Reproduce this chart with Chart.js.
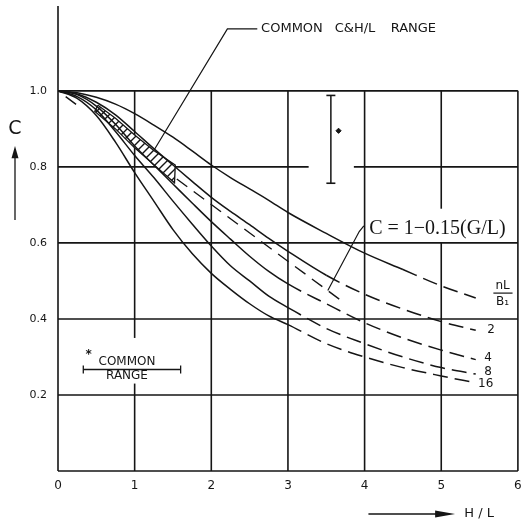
<!DOCTYPE html>
<html>
<head>
<meta charset="utf-8">
<script src="https://cdn.jsdelivr.net/npm/chart.js@4.4.1/dist/chart.umd.min.js"></script>
<style>
  html, body { margin: 0; padding: 0; background: #fff; }
  canvas { display: block; }
</style>
</head>
<body>
<canvas id="chart" width="524" height="525"></canvas>
<script>
// ── Valores (C vs H/L) ────────────────────────────────────────────────
const hL   = [0, 0.25, 0.5, 0.75, 1, 1.25, 1.5, 1.75, 2, 2.25, 2.5, 2.75, 3, 3.5, 4, 4.5, 5, 5.45];
const cN1  = [1.0, 0.995, 0.983, 0.965, 0.94, 0.91, 0.878, 0.842, 0.805, 0.772, 0.742, 0.712, 0.68, 0.625, 0.573, 0.53, 0.487, 0.455];
const cN2  = [1.0, 0.992, 0.97, 0.937, 0.893, 0.848, 0.805, 0.762, 0.72, 0.683, 0.648, 0.612, 0.578, 0.515, 0.465, 0.426, 0.393, 0.37];
const cN4  = [1.0, 0.99, 0.96, 0.912, 0.855, 0.805, 0.755, 0.705, 0.656, 0.61, 0.565, 0.525, 0.492, 0.44, 0.39, 0.35, 0.318, 0.293];
const cN8  = [1.0, 0.985, 0.95, 0.893, 0.83, 0.772, 0.71, 0.65, 0.592, 0.54, 0.5, 0.46, 0.43, 0.375, 0.335, 0.3, 0.272, 0.255];
const cN16 = [1.0, 0.98, 0.935, 0.865, 0.785, 0.71, 0.635, 0.572, 0.52, 0.478, 0.44, 0.408, 0.385, 0.335, 0.3, 0.272, 0.25, 0.232];

// zona rayada "COMMON C & H/L RANGE" (contorno cerrado)
const bandH = [0.52, 0.75, 1.0, 1.25, 1.53, 1.52, 1.25, 1.0, 0.75, 0.48, 0.52];
const bandC = [0.962, 0.928, 0.884, 0.843, 0.805, 0.758, 0.806, 0.85, 0.9, 0.946, 0.962];

// recta C = 1 - 0.15(G/L): solo se ve un trazo cerca del origen y luego desde la zona rayada
const lineH = [0.1, 0.28, 0.9, 1.55, 3.75];
const lineC = [0.985, 0.958, null, 0.768, 0.44];

// barra de dispersión y punto
const errH = [3.56, 3.56];
const errC = [0.988, 0.757];
const dotH = [3.66];
const dotC = [0.895];

// barra "COMMON RANGE"
const rangeH = [0.33, 1.6];
const rangeC = [0.267, 0.267];

// líneas de referencia de las notas
const leadH = [2.6, 2.21, 1.24];
const leadC = [1.163, 1.163, 0.84];
const lead2H = [3.99, 3.93, 3.52];
const lead2C = [0.645, 0.63, 0.475];

const xTicks = [0, 1, 2, 3, 4, 5, 6];
const yTicks = [0.2, 0.4, 0.6, 0.8, 1.0];
const curveLabels = ['2', '4', '8', '16'];

const INK = '#151515';
const pts = (xs, ys) => xs.map((v, i) => ({ x: v, y: ys[i] }));

// ── Patrón rayado (fondo blanco para tapar lo que pasa por debajo) ───
function hatchPattern() {
  const p = document.createElement('canvas');
  p.width = 8; p.height = 8;
  const g = p.getContext('2d');
  g.fillStyle = '#fff';
  g.fillRect(0, 0, 8, 8);
  g.strokeStyle = INK; g.lineWidth = 1.4;
  g.beginPath();
  g.moveTo(0, 8); g.lineTo(8, 0);
  g.moveTo(-1, 1); g.lineTo(1, -1);
  g.moveTo(7, 9); g.lineTo(9, 7);
  g.stroke();
  return g.createPattern(p, 'repeat');
}

function curve(data, dashFrom) {
  return {
    data: pts(hL, data),
    borderColor: INK,
    borderWidth: 1.5,
    pointRadius: 0,
    fill: false,
    cubicInterpolationMode: 'monotone',
    segment: { borderDash: s => s.p0.parsed.x >= dashFrom ? [15, 7] : undefined },
  };
}

// ── Cuadrícula con cortes, como en el original ────────────────────────
const gridPlugin = {
  id: 'gridLines',
  beforeDatasetsDraw(chart) {
    const { ctx, chartArea, scales: { x, y } } = chart;
    const vGaps = { 1: [[0.23, 0.35]], 5: [[0.6, 0.69]] };
    const hGaps = { '0.8': [[3.27, 3.86]] };
    ctx.save();
    ctx.strokeStyle = INK;
    ctx.lineWidth = 1.6;
    const seg = (x1, y1, x2, y2) => { ctx.beginPath(); ctx.moveTo(x1, y1); ctx.lineTo(x2, y2); ctx.stroke(); };

    xTicks.forEach(v => {
      const px = x.getPixelForValue(v);
      if (v === 0) { seg(px, y.getPixelForValue(0), px, chartArea.top); return; }
      let from = 0;
      (vGaps[v] || []).forEach(([a, b]) => {
        seg(px, y.getPixelForValue(from), px, y.getPixelForValue(a));
        from = b;
      });
      seg(px, y.getPixelForValue(from), px, y.getPixelForValue(1.0));
    });

    [0].concat(yTicks).forEach(v => {
      const py = y.getPixelForValue(v);
      let from = 0;
      (hGaps[v.toFixed(1)] || []).forEach(([a, b]) => {
        seg(x.getPixelForValue(from), py, x.getPixelForValue(a), py);
        from = b;
      });
      seg(x.getPixelForValue(from), py, x.getPixelForValue(6), py);
    });
    ctx.restore();
  },
};

// ── Textos y flechas ──────────────────────────────────────────────────
const notesPlugin = {
  id: 'notes',
  afterDraw(chart) {
    const { ctx, chartArea, scales: { x, y } } = chart;
    const X = v => x.getPixelForValue(v);
    const Y = v => y.getPixelForValue(v);
    ctx.save();
    ctx.fillStyle = INK;
    ctx.strokeStyle = INK;
    ctx.textBaseline = 'middle';

    // título de la zona común
    ctx.font = '13px "DejaVu Sans"';
    ctx.textAlign = 'left';
    ctx.fillText('COMMON', X(2.65), Y(1.165));
    ctx.fillText('C&H/L', X(3.61), Y(1.165));
    ctx.fillText('RANGE', X(4.34), Y(1.165));

    // fórmula
    ctx.font = '20px "Liberation Serif"';
    ctx.fillText('C = 1\u22120.15(G/L)', X(4.06), Y(0.637));

    // COMMON RANGE
    ctx.font = '12px "DejaVu Sans"';
    ctx.textAlign = 'center';
    ctx.fillText('COMMON', X(0.9), Y(0.286));
    ctx.fillText('RANGE', X(0.9), Y(0.249));
    ctx.font = 'bold 12px "DejaVu Sans"';
    ctx.fillText('*', X(0.4), Y(0.305));

    // etiquetas de curvas
    ctx.font = '12px "DejaVu Sans"';
    ctx.textAlign = 'left';
    const ends = [[5.6, 0.37], [5.56, 0.298], [5.56, 0.261], [5.48, 0.229]];
    curveLabels.forEach((t, i) => ctx.fillText(t, X(ends[i][0]), Y(ends[i][1])));
    ctx.textAlign = 'center';
    ctx.fillText('nL', X(5.8), Y(0.488));
    ctx.fillText('B\u2081', X(5.8), Y(0.444));
    ctx.lineWidth = 1.2;
    ctx.beginPath(); ctx.moveTo(X(5.68), Y(0.468)); ctx.lineTo(X(5.93), Y(0.468)); ctx.stroke();

    // eje C
    const cx = chartArea.left - 43;
    ctx.font = '19px "DejaVu Sans"';
    ctx.fillText('C', cx, Y(0.9));
    ctx.lineWidth = 1.3;
    ctx.beginPath(); ctx.moveTo(cx, Y(0.66)); ctx.lineTo(cx, Y(0.83)); ctx.stroke();
    ctx.beginPath();
    ctx.moveTo(cx, Y(0.855)); ctx.lineTo(cx - 3.5, Y(0.823)); ctx.lineTo(cx + 3.5, Y(0.823));
    ctx.closePath(); ctx.fill();

    // eje H/L
    const hy = chartArea.bottom + 43;
    ctx.beginPath(); ctx.moveTo(X(4.05), hy); ctx.lineTo(X(5.0), hy); ctx.stroke();
    ctx.beginPath();
    ctx.moveTo(X(5.18), hy); ctx.lineTo(X(4.92), hy - 3.5); ctx.lineTo(X(4.92), hy + 3.5);
    ctx.closePath(); ctx.fill();
    ctx.font = '13px "DejaVu Sans"';
    ctx.textAlign = 'left';
    ctx.fillText('H / L', X(5.3), hy);
    ctx.restore();
  },
};

const chart = new Chart(document.getElementById('chart'), {
  type: 'line',
  data: {
    datasets: [
      curve(cN1, 4.5),
      curve(cN2, 3.5),
      curve(cN4, 3.0),
      curve(cN8, 3.0),
      curve(cN16, 3.0),
      {
        data: pts(bandH, bandC),
        borderColor: INK, borderWidth: 1.3, pointRadius: 0, tension: 0,
        fill: 'shape', backgroundColor: hatchPattern(),
      },
      {
        data: pts(lineH, lineC),
        borderColor: INK, borderWidth: 1.4, pointRadius: 0, tension: 0,
        borderDash: [13, 8], fill: false, spanGaps: false,
      },
      {
        data: pts(errH, errC),
        borderColor: INK, borderWidth: 1.5, tension: 0, fill: false,
        pointStyle: 'line', pointRadius: 4.5, pointBorderWidth: 1.6,
      },
      {
        data: pts(dotH, dotC), showLine: false,
        pointStyle: 'rectRot', pointRadius: 2.6,
        pointBackgroundColor: INK, pointBorderColor: INK,
      },
      {
        data: pts(rangeH, rangeC),
        borderColor: INK, borderWidth: 1.3, tension: 0, fill: false,
        pointStyle: 'line', pointRotation: 90, pointRadius: 4, pointBorderWidth: 1.3,
      },
      {
        data: pts(leadH, leadC),
        borderColor: INK, borderWidth: 1.2, pointRadius: 0, tension: 0, fill: false,
      },
      {
        data: pts(lead2H, lead2C),
        borderColor: INK, borderWidth: 1.2, pointRadius: 0, tension: 0, fill: false,
      },
    ],
  },
  options: {
    responsive: false,
    animation: false,
    devicePixelRatio: 1,
    layout: { padding: { top: 5, right: 5, left: 0, bottom: 0 } },
    plugins: { legend: { display: false }, tooltip: { enabled: false } },
    scales: {
      x: {
        type: 'linear', min: 0, max: 6,
        afterBuildTicks: s => { s.ticks = xTicks.map(v => ({ value: v })); },
        afterFit: s => { s.height = 54; s.paddingLeft = 0; s.paddingRight = 0; },
        grid: { display: false, drawTicks: false }, border: { display: false },
        ticks: { color: INK, padding: 8, font: { family: 'DejaVu Sans', size: 12 } },
      },
      y: {
        type: 'linear', min: 0, max: 1.223,
        afterBuildTicks: s => { s.ticks = yTicks.map(v => ({ value: v })); },
        afterFit: s => { s.width = 58; s.paddingTop = 0; s.paddingBottom = 0; },
        grid: { display: false, drawTicks: false }, border: { display: false },
        ticks: {
          color: INK, padding: 11, font: { family: 'DejaVu Sans', size: 11 },
          callback: v => v.toFixed(1),
        },
      },
    },
  },
  plugins: [gridPlugin, notesPlugin],
});
</script>
</body>
</html>
